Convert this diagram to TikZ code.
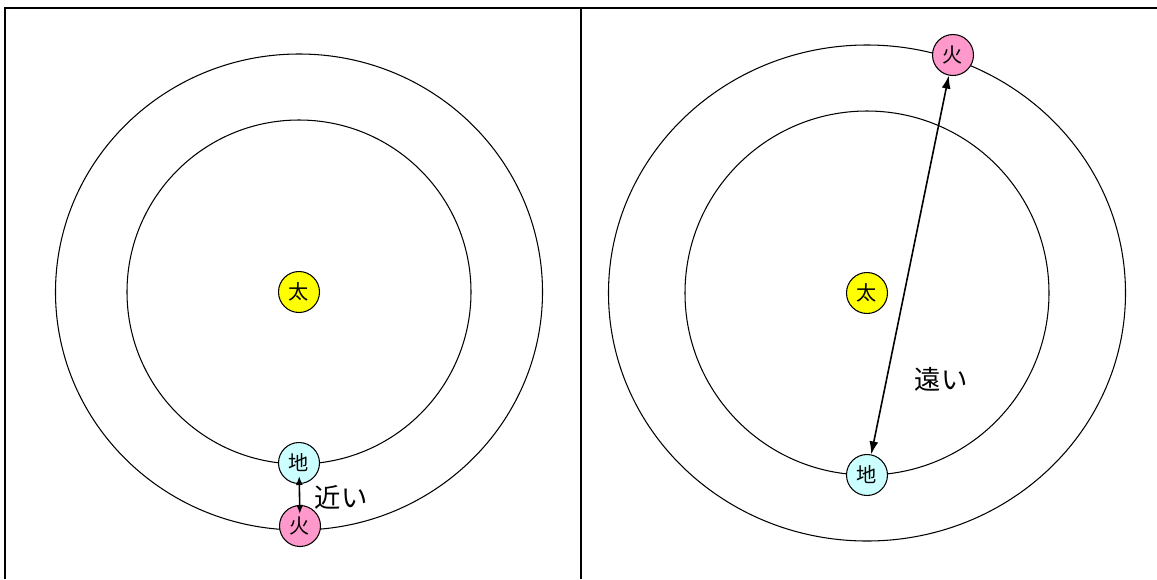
\documentclass[tikz,border=0pt]{standalone}
\usepackage{fontspec}
\setmainfont{Noto Sans CJK JP}
\usetikzlibrary{arrows.meta}
\definecolor{suncol}{HTML}{FFFF00}
\definecolor{earthcol}{HTML}{CCFFFF}
\definecolor{marscol}{HTML}{FF99CC}
\begin{document}
\begin{tikzpicture}[x=0.02cm, y=-0.02cm,
		orbit/.style = {draw, line width=0.6pt},
		planet/.style = {draw, circle, minimum size=0.82cm, inner sep=0pt, line width=0.6pt, font=\fontsize{11.5}{11.5}\selectfont},
		dist/.style = {font=\fontsize{15}{15}\selectfont, inner sep=0pt},
		gap/.style = {{Latex[length=2.6mm,width=1.8mm]}-{Latex[length=2.6mm,width=1.8mm]}, line width=0.9pt},
		shortgap/.style = {{Latex[length=1.8mm,width=1.4mm]}-{Latex[length=1.8mm,width=1.4mm]}, line width=0.9pt, shorten <=-0.16cm, shorten >=-0.18cm}]
	\useasboundingbox (0,0) rectangle (1157,579);
	\draw[line width=1.3pt] (5,579) -- (5,8) -- (1157,8);
	\draw[line width=1.3pt] (581,8) -- (581,579);
	% near
	\draw[orbit] (299,292) circle [x radius=243.5, y radius=238];
	\draw[orbit] (299,292) circle [radius=172];
	\node[planet, fill=suncol] (s1) at (299,292) {太};
	\node[planet, fill=earthcol] (e1) at (299,463) {地};
	\node[planet, fill=marscol] (m1) at (300,526) {火};
	\draw[shortgap] (e1) -- (m1);
	\node[dist] (n1) at (341,497) {近い};
	% far
	\draw[orbit] (867,293) circle [x radius=258.5, y radius=248];
	\draw[orbit] (867,293) circle [radius=182];
	\node[planet, fill=suncol] (s2) at (867,293) {太};
	\node[planet, fill=earthcol] (e2) at (867,475) {地};
	\node[planet, fill=marscol] (m2) at (953,55) {火};
	\draw[gap] (e2) -- (m2);
	\node[dist] (n2) at (941,379) {遠い};
\end{tikzpicture}
\end{document}
